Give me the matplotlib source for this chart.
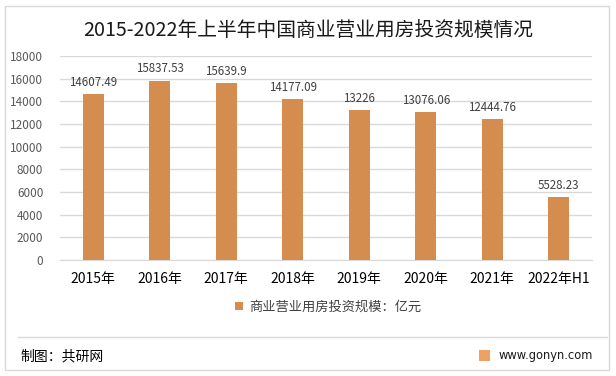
import numpy as np
import matplotlib
matplotlib.use("Agg")
from matplotlib import pyplot as plt
from matplotlib.patches import Rectangle

plt.rcParams['font.family'] = ['Noto Sans CJK SC', 'DejaVu Sans']

# 数据
years = ["2015年", "2016年", "2017年", "2018年", "2019年", "2020年", "2021年", "2022年H1"]
invest = [14607.49, 15837.53, 15639.9, 14177.09, 13226, 13076.06, 12444.76, 5528.23]
value_labels = ["14607.49", "15837.53", "15639.9", "14177.09", "13226", "13076.06", "12444.76", "5528.23"]
yticks = list(range(0, 18001, 2000))

W, H = 616, 376
fig = plt.figure(figsize=(W / 100, H / 100), dpi=100)

# 外框
fig.patches.append(Rectangle((5 / W, 6 / H), 604 / W, 364 / H, transform=fig.transFigure,
                             fill=False, edgecolor="#d9d9d9", linewidth=1))

ax = fig.add_axes([60 / W, 1 - 260 / H, 532 / W, 204 / H])
x = np.arange(len(years))
bars = ax.bar(x, invest, width=0.31, color="#d58c4f", zorder=3, label="商业营业用房投资规模：亿元")
for xi, v, s in zip(x, invest, value_labels):
    ax.text(xi, v + 450, s, ha="center", va="bottom", fontsize=8.3, color="#404040")

ax.set_xlim(-0.5, len(years) - 0.5)
ax.set_ylim(0, 18000)
ax.set_yticks(yticks)
ax.set_yticklabels([str(t) for t in yticks], fontsize=8.5, color="#595959")
ax.set_xticks(x)
ax.set_xticklabels(years, fontsize=10, color="#000000")
ax.tick_params(axis="both", length=0)
ax.tick_params(axis="x", pad=9)
ax.tick_params(axis="y", pad=12)
ax.grid(axis="y", color="#d9d9d9", linewidth=1, zorder=0)
for sp in ["top", "right", "left"]:
    ax.spines[sp].set_visible(False)
ax.spines["bottom"].set_color("#d9d9d9")

fig.text(0.5, 1 - 30 / H, "2015-2022年上半年中国商业营业用房投资规模情况", ha="center", va="center",
         fontsize=14.2, color="#1a1a1a")

leg = fig.legend(handles=[bars], loc="center", bbox_to_anchor=(328 / W, 1 - 307 / H), frameon=False,
                 fontsize=9.5, handlelength=0.6, handleheight=0.6, handletextpad=0.5)
for t in leg.get_texts():
    t.set_color("#404040")

# 分隔线与底部
fig.add_artist(plt.Line2D([18 / W, 607 / W], [1 - 337 / H, 1 - 337 / H], color="#d9d9d9", linewidth=1))
fig.text(20 / W, 1 - 356 / H, "制图：共研网", ha="left", va="center", fontsize=10, color="#000000")
fig.patches.append(Rectangle((479 / W, 1 - 361 / H), 11 / W, 11 / H, transform=fig.transFigure,
                             facecolor="#f0a060", edgecolor="none"))
fig.text(593 / W, 1 - 356 / H, "www.gonyn.com", ha="right", va="center", fontsize=8.3, color="#1a1a1a",
         family=["DejaVu Sans"])

fig.savefig("out.png", dpi=100)
